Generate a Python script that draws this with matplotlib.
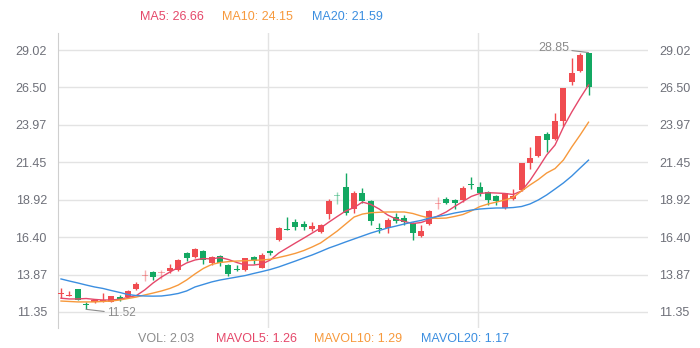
import numpy as np
import matplotlib.pyplot as plt
from matplotlib.colors import to_rgba

plt.rcParams['font.family'] = ['Liberation Sans', 'DejaVu Sans']

# candle values (one per trading day)
opens = [12.58, 12.45, 12.87, 11.84, 12.00, 12.05, 12.04, 12.38, 12.38, 12.90,
         13.78, 14.03, 13.94, 14.10, 14.17, 15.30, 15.07, 15.43, 14.63, 15.12,
         14.48, 14.19, 14.17, 15.03, 14.33, 15.45, 16.20, 16.95, 17.39, 17.28,
         16.96, 16.76, 17.93, 19.25, 19.80, 18.27, 19.39, 18.83, 17.00, 16.99,
         17.77, 17.66, 17.37, 16.47, 17.28, 18.66, 18.94, 18.90, 18.90, 19.97,
         19.80, 19.46, 19.17, 18.34, 19.00, 19.57, 21.37, 21.85, 23.33, 22.99,
         24.23, 26.88, 27.62, 28.85]
highs = [12.94, 12.78, 12.90, 12.00, 12.20, 12.62, 12.45, 12.52, 12.80, 13.35,
         14.20, 14.13, 14.20, 14.60, 14.95, 15.40, 15.63, 15.50, 15.12, 15.20,
         14.55, 14.50, 15.00, 15.10, 15.30, 15.50, 17.10, 17.77, 17.60, 17.50,
         17.40, 17.30, 18.95, 19.46, 20.70, 19.50, 19.69, 18.90, 17.33, 17.66,
         18.00, 17.90, 17.44, 17.21, 18.20, 19.12, 19.12, 18.95, 19.84, 20.42,
         20.10, 19.53, 19.24, 19.40, 19.62, 21.40, 22.45, 23.25, 23.47, 24.79,
         26.48, 28.46, 28.80, 28.85]
lows = [12.31, 12.43, 12.12, 11.52, 11.93, 12.00, 12.00, 12.10, 12.35, 12.82,
        13.40, 13.52, 13.60, 14.00, 14.10, 14.80, 14.96, 14.56, 14.51, 14.46,
        13.80, 14.08, 14.10, 14.60, 14.30, 15.20, 16.10, 16.88, 16.90, 16.90,
        16.80, 16.70, 17.60, 18.61, 17.90, 18.05, 18.72, 17.21, 16.65, 16.69,
        17.33, 17.20, 16.20, 16.42, 17.20, 18.27, 18.60, 18.30, 18.79, 19.62,
        19.20, 18.56, 18.56, 18.30, 18.90, 19.50, 20.97, 21.80, 22.16, 22.95,
        23.89, 26.66, 27.54, 25.98]
closes = [12.62, 12.50, 12.15, 11.80, 12.13, 12.10, 12.42, 12.25, 12.76, 13.23,
          13.82, 13.70, 13.98, 14.28, 14.84, 15.00, 15.57, 14.83, 15.03, 14.63,
          13.93, 14.15, 14.96, 14.80, 15.18, 15.35, 17.03, 16.90, 17.06, 17.06,
          17.14, 17.19, 18.83, 19.20, 18.04, 19.35, 18.83, 17.48, 16.97, 17.55,
          17.50, 17.44, 16.69, 16.83, 18.15, 18.70, 18.72, 18.68, 19.69, 19.93,
          19.39, 18.90, 18.80, 19.35, 19.17, 21.37, 21.71, 23.20, 22.95, 24.23,
          26.44, 27.45, 28.68, 26.55]

# moving average lines as drawn
ma5 = [12.27, 12.22, 12.22, 12.25, 12.19, 12.15, 12.15, 12.20, 12.32, 12.45,
       12.83, 13.30, 13.70, 14.04, 14.34, 14.65, 14.85, 14.95, 14.92, 15.02,
       14.88, 14.68, 14.51, 14.51, 14.58, 14.85, 15.32, 15.66, 16.00, 16.33,
       16.67, 17.01, 17.41, 17.79, 18.16, 18.39, 18.76, 18.60, 18.29, 17.89,
       17.62, 17.45, 17.31, 17.38, 17.58, 17.82, 18.09, 18.46, 18.80, 19.14,
       19.34, 19.39, 19.37, 19.34, 19.27, 19.51, 20.21, 21.06, 21.94, 22.61,
       23.82, 24.84, 25.78, 26.66]
ma10 = [12.08, 12.05, 12.02, 12.02, 12.02, 12.05, 12.08, 12.15, 12.25, 12.35,
        12.49, 12.62, 12.76, 12.93, 13.16, 13.50, 13.91, 14.28, 14.55, 14.68,
        14.74, 14.78, 14.80, 14.83, 14.85, 14.90, 15.02, 15.15, 15.30, 15.49,
        15.73, 16.00, 16.40, 16.81, 17.28, 17.75, 17.95, 18.04, 18.07, 18.09,
        18.09, 18.09, 17.99, 17.82, 17.68, 17.66, 17.68, 17.79, 17.92, 18.16,
        18.45, 18.63, 18.76, 18.90, 19.07, 19.51, 19.91, 20.28, 20.72, 21.02,
        21.60, 22.48, 23.29, 24.15]
ma20 = [13.57, 13.43, 13.30, 13.16, 13.03, 12.93, 12.79, 12.66, 12.52, 12.45,
        12.42, 12.41, 12.42, 12.49, 12.59, 12.76, 13.03, 13.20, 13.37, 13.50,
        13.60, 13.70, 13.80, 13.94, 14.07, 14.21, 14.38, 14.58, 14.78, 14.99,
        15.19, 15.42, 15.66, 15.86, 16.07, 16.27, 16.47, 16.67, 16.84, 17.01,
        17.14, 17.28, 17.41, 17.52, 17.68, 17.79, 17.89, 18.02, 18.12, 18.22,
        18.29, 18.33, 18.36, 18.36, 18.39, 18.46, 18.63, 18.90, 19.24, 19.64,
        20.05, 20.52, 21.06, 21.59]

faint_days = [10, 12, 33, 45]   # candles drawn lighter in the original
y_ticks = [11.35, 13.87, 16.40, 18.92, 21.45, 23.97, 26.50, 29.02]
ma_labels = ['MA5: 26.66', 'MA10: 24.15', 'MA20: 21.59']
vol_labels = ['VOL: 2.03', 'MAVOL5: 1.26', 'MAVOL10: 1.29', 'MAVOL20: 1.17']
max_high = 28.85
min_low = 11.52

up_color = '#f04c50'
down_color = '#13a862'
c5, c10, c20 = '#e5486a', '#f7993c', '#3b8ee0'
grey = '#6e7079'

fig = plt.figure(figsize=(7, 3.48), dpi=100)
ax = fig.add_axes([58 / 700, 20 / 348, 590 / 700, 295 / 348])

x = np.arange(len(opens))
o = np.array(opens)
c = np.array(closes)
cols = []
for i in x:
    base = up_color if c[i] >= o[i] else down_color
    cols.append(to_rgba(base, 0.45 if i in faint_days else 1.0))

# wicks then bodies
ax.vlines(x, lows, highs, colors=cols, linewidth=1, zorder=2)
ax.bar(x, np.maximum(np.abs(c - o), 0.07), bottom=np.minimum(o, c), width=0.72,
       color=cols, linewidth=0, zorder=3)

ax.plot(x, ma5, color=c5, lw=1, zorder=4)
ax.plot(x, ma10, color=c10, lw=1, zorder=4)
ax.plot(x, ma20, color=c20, lw=1, zorder=4)

# high / low markers
imax = int(np.argmax(highs))
imin = int(np.argmin(lows))
ax.annotate('%.2f' % max_high, xy=(imax, max_high), xytext=(-14, 3),
            textcoords='offset points', ha='right', va='center', fontsize=9,
            color='#8c8c8c', arrowprops=dict(arrowstyle='-', color='#8c8c8c', lw=0.8,
                                             shrinkA=0, shrinkB=0))
ax.annotate('%.2f' % min_low, xy=(imin, min_low), xytext=(15, -3),
            textcoords='offset points', ha='left', va='center', fontsize=8.5,
            color='#8c8c8c', arrowprops=dict(arrowstyle='-', color='#8c8c8c', lw=0.8,
                                             shrinkA=0, shrinkB=0))

ax.set_xlim(-0.36, 70.1)
ax.set_ylim(10.26, 30.17)
ax.set_yticks(y_ticks)
ax.set_yticklabels(['%.2f' % v for v in y_ticks])
ax.set_xticks([24.75, 49.75])
ax.set_xticklabels([])
ax.grid(True, color='#e3e3e3', lw=1, zorder=0)
ax.tick_params(axis='y', length=0, pad=8, labelsize=9, labelcolor=grey,
               labelleft=True, labelright=True)
ax.tick_params(axis='x', length=0)
for s in ['top', 'right', 'bottom']:
    ax.spines[s].set_visible(False)
ax.spines['left'].set_color('#cfcfcf')

# legend lines at top and bottom
for txt, col, px in zip(ma_labels, [c5, c10, c20], [140, 222, 312]):
    fig.text(px / 700, 1 - 17 / 348, txt, color=col, fontsize=9, va='center')
for txt, col, px in zip(vol_labels, ['#8c8c8c', c5, c10, c20], [138, 216, 314, 421]):
    fig.text(px / 700, 1 - 339 / 348, txt, color=col, fontsize=9, va='center')

fig.savefig('out.png', dpi=100)
